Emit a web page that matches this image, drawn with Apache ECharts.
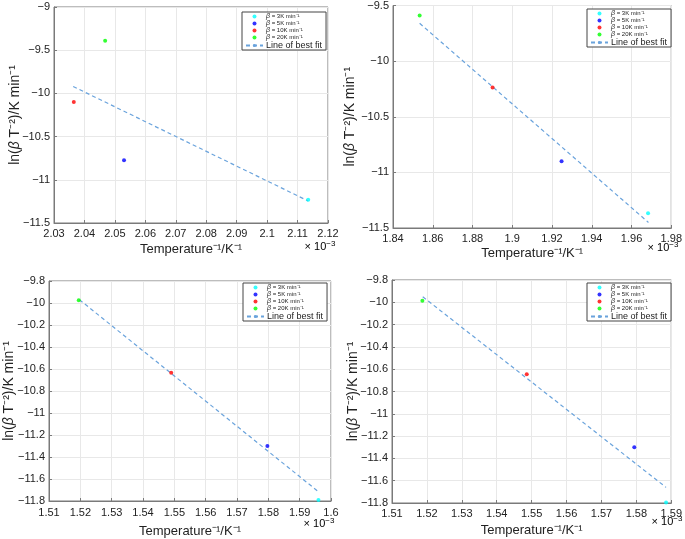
<!DOCTYPE html>
<html>
<head>
<meta charset="utf-8">
<script src="https://cdn.jsdelivr.net/npm/echarts@6/dist/echarts.min.js"></script>
<style>
html,body{margin:0;padding:0;background:#fff;}
#chart{width:685px;height:539px;}
</style>
</head>
<body>
<div id="chart"></div>
<script>
// ---------- DATA ----------
const seriesNames = ['β = 3K min⁻¹', 'β = 5K min⁻¹', 'β = 10K min⁻¹', 'β = 20K min⁻¹'];
const fitName = 'Line of best fit';

// x values in units of 10^-3 K^-1, y = ln(beta T^-2)
// Panel A (top-left)
const xA = [2.1135, 2.053, 2.0365, 2.0468];
const yA = [-11.23, -10.775, -10.10, -9.39];
const fitXA = [2.0363, 2.1135];
const fitYA = [-9.92, -11.245];
// Panel B (top-right)
const xB = [1.9683, 1.9248, 1.8901, 1.8534];
const yB = [-11.368, -10.90, -10.237, -9.59];
const fitXB = [1.8534, 1.9685];
const fitYB = [-9.66, -11.45];
// Panel C (bottom-left)
const xC = [1.596, 1.5797, 1.549, 1.5195];
const yC = [-11.79, -11.30, -10.635, -9.975];
const fitXC = [1.5197, 1.5962];
const fitYC = [-9.97, -11.72];
// Panel D (bottom-right)
const xD = [1.5885, 1.5794, 1.5486, 1.5187];
const yD = [-11.795, -11.30, -10.646, -9.985];
const fitXD = [1.5188, 1.5885];
const fitYD = [-9.95, -11.66];

// axis ranges [min, max, interval]
const xRangeA = [2.03, 2.12, 0.01];
const yRangeA = [-11.5, -9, 0.5];
const xRangeB = [1.84, 1.98, 0.02];
const yRangeB = [-11.5, -9.5, 0.5];
const xRangeC = [1.51, 1.6, 0.01];
const yRangeC = [-11.8, -9.8, 0.2];
const xRangeD = [1.51, 1.59, 0.01];
const yRangeD = [-11.8, -9.8, 0.2];

const xAxisTitle = 'Temperature⁻¹/K⁻¹';
const expText = '× 10';
const expSup = '−3';

// ---------- STYLE / LAYOUT ----------
const pointColors = ['#00ffff', '#0000ff', '#ff0000', '#00ff00'];
const fitColor = '#6aa3dc';
const FONT = 'Liberation Sans, Arial, Helvetica, sans-serif';

const panels = [
  {x: xA, y: yA, fx: fitXA, fy: fitYA, xr: xRangeA, yr: yRangeA,
   grid: {left: 54, top: 7, width: 274, height: 216}, legend: {left: 242, top: 12},
   xGap: 20, yGap: 32, xMargin: 5, exp: [320, 247]},
  {x: xB, y: yB, fx: fitXB, fy: fitYB, xr: xRangeB, yr: yRangeB,
   grid: {left: 393, top: 5, width: 283, height: 223}, legend: {left: 587, top: 9},
   xGap: 19, yGap: 36, xMargin: 5, exp: [663, 248]},
  {x: xC, y: yC, fx: fitXC, fy: fitYC, xr: xRangeC, yr: yRangeC,
   grid: {left: 49, top: 281, width: 282, height: 221}, legend: {left: 243, top: 283},
   xGap: 24, yGap: 33, xMargin: 6, exp: [319, 524]},
  {x: xD, y: yD, fx: fitXD, fy: fitYD, xr: xRangeD, yr: yRangeD,
   grid: {left: 392, top: 280, width: 280, height: 223}, legend: {left: 587, top: 283},
   xGap: 21, yGap: 32, xMargin: 5, exp: [667, 522]}
];

function fmt(v) {
  return String(Number(v.toFixed(4))).replace('-', '−');
}

const grids = [], xAxes = [], yAxes = [], series = [], legends = [], graphics = [];
const axisColor = '#7a7a7a';
const textColor = '#222';

panels.forEach((p, i) => {
  grids.push(Object.assign({show: true, borderColor: axisColor, borderWidth: 1, backgroundColor: '#fff', containLabel: false}, p.grid));
  xAxes.push({
    type: 'value', gridIndex: i, min: p.xr[0], max: p.xr[1], interval: p.xr[2],
    name: xAxisTitle, nameLocation: 'middle', nameGap: p.xGap, nameMoveOverlap: false,
    nameTextStyle: {fontFamily: FONT, fontSize: 13, color: textColor},
    axisLine: {show: true, onZero: false, lineStyle: {color: axisColor}},
    axisTick: {show: true, inside: true, length: 3, lineStyle: {color: axisColor}},
    axisLabel: {fontFamily: FONT, fontSize: 11, color: textColor, margin: p.xMargin, formatter: fmt, showMinLabel: true, showMaxLabel: true},
    splitLine: {show: true, lineStyle: {color: '#e8e8e8', width: 1}}
  });
  yAxes.push({
    type: 'value', gridIndex: i, min: p.yr[0], max: p.yr[1], interval: p.yr[2],
    name: '{n|ln(}{i|β}{n| T⁻²)/K min⁻¹}', nameLocation: 'middle', nameGap: p.yGap, nameRotate: 90,
    nameMoveOverlap: false,
    nameTextStyle: {fontFamily: FONT, fontSize: 14, color: textColor,
      rich: {n: {fontFamily: FONT, fontSize: 14, color: textColor},
             i: {fontFamily: FONT, fontSize: 14, fontStyle: 'italic', color: textColor}}},
    axisLine: {show: true, onZero: false, lineStyle: {color: axisColor}},
    axisTick: {show: true, inside: true, length: 3, lineStyle: {color: axisColor}},
    axisLabel: {fontFamily: FONT, fontSize: 11, color: textColor, margin: 4, formatter: fmt, showMinLabel: true, showMaxLabel: true},
    splitLine: {show: true, lineStyle: {color: '#e8e8e8', width: 1}}
  });
  seriesNames.forEach((nm, k) => {
    series.push({
      type: 'scatter', name: nm, xAxisIndex: i, yAxisIndex: i,
      symbol: 'circle', symbolSize: 4,
      itemStyle: {color: pointColors[k]},
      data: [[p.x[k], p.y[k]]], z: 3
    });
  });
  series.push({
    type: 'line', name: fitName, xAxisIndex: i, yAxisIndex: i,
    symbol: 'none', showSymbol: false,
    lineStyle: {color: fitColor, width: 1.2, type: [4, 3]},
    itemStyle: {color: fitColor},
    data: p.fx.map((xv, j) => [xv, p.fy[j]]), z: 2
  });
  legends.push({
    orient: 'vertical', left: p.legend.left, top: p.legend.top,
    backgroundColor: '#fff', borderColor: '#444', borderWidth: 1, padding: [1, 4, 0, 3],
    itemWidth: 17, itemHeight: 4, itemGap: 0, selectedMode: false,
    data: seriesNames.concat([fitName]),
    formatter: function (name) {
      if (name === fitName) return '{f|' + name + '}';
      return '{b|β}{s|' + name.slice(1) + '}';
    },
    textStyle: {fontFamily: FONT, color: textColor, padding: [0, 0, 0, -2],
      rich: {
        b: {fontFamily: FONT, fontSize: 7, fontStyle: 'italic', color: textColor, lineHeight: 6},
        s: {fontFamily: FONT, fontSize: 6, color: textColor, lineHeight: 6},
        f: {fontFamily: FONT, fontSize: 9, color: textColor, lineHeight: 9}
      }}
  });
  graphics.push({
    type: 'text', x: p.exp[0], y: p.exp[1],
    style: {
      text: '{a|' + expText + '}{s|' + expSup + '}',
      align: 'center', verticalAlign: 'middle',
      rich: {a: {fontFamily: FONT, fontSize: 11, color: textColor},
             s: {fontFamily: FONT, fontSize: 8, color: textColor, verticalAlign: 'top', padding: [0, 0, 6, 0]}}
    }
  });
});

const chart = echarts.init(document.getElementById('chart'), null, {renderer: 'canvas'});
chart.setOption({
  animation: false,
  backgroundColor: '#fff',
  grid: grids,
  xAxis: xAxes,
  yAxis: yAxes,
  legend: legends,
  series: series,
  graphic: graphics
});
</script>
</body>
</html>
